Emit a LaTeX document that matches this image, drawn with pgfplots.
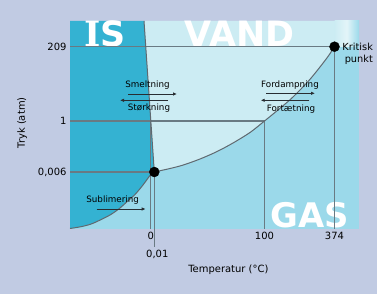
\documentclass[border=0pt]{standalone}
\usepackage{fontspec}
\setmainfont{DejaVu Sans}
\newfontfamily\serifb{DejaVu Serif}
\usepackage{pgfplots}
\pgfplotsset{compat=1.18}
\usetikzlibrary{arrows.meta}
\definecolor{bg}{RGB}{193,203,227}
\definecolor{ice}{RGB}{52,178,210}
\definecolor{liquid}{RGB}{204,236,243}
\definecolor{gas}{RGB}{155,217,234}
\definecolor{gridc}{RGB}{105,122,131}
\definecolor{curvec}{RGB}{95,105,112}
\definecolor{arrc}{RGB}{40,45,50}
\begin{document}
\begin{tikzpicture}
\fill[bg] (-70bp,-65bp) rectangle (307bp,229bp);
\begin{axis}[
  at={(0,0)}, anchor=south west,
  scale only axis, width=289bp, height=208bp,
  xmin=70, xmax=359, ymin=0, ymax=208,
  clip=false,
  axis line style={draw=none},
  major tick length=0pt,
  xtick={150.8,264.5,334.5},
  xticklabels={0,100,374},
  extra x ticks={154.3},
  extra x tick labels={0{,}01},
  extra x tick style={xticklabel style={yshift=-18bp, xshift=3bp}},
  ytick={57,108,182.3},
  yticklabels={0{,}006,1,209},
  tick label style={font=\fontsize{10}{12}\selectfont, text=black},
  xlabel={Temperatur (°C)},
  ylabel={Tryk (atm)},
  label style={font=\fontsize{10}{12}\selectfont},
  xlabel style={at={(axis description cs:0.548,-0.197)}, anchor=center},
  ylabel style={at={(axis description cs:-0.166,0.51)}, anchor=center},
]
% gas (background of plot)
\addplot[draw=none, fill=gas] coordinates {(70,0)(359,0)(359,208)(70,208)} -- cycle;
% liquid
\addplot[draw=none, fill=liquid] coordinates {
  (154.3,57)(170,60.5)(183.3,64)(200,70)(216.7,77.3)(233,86)(250,96.5)
  (264.5,108)(280,120.7)(293.3,132.3)(310,149.7)(326.7,170.7)(334.5,182.3)
  (334.5,208)(144,208)} -- cycle;
% ice
\addplot[draw=none, fill=ice] coordinates {
  (70,208)(144,208)(154.3,57)(150,53.5)(143,44)(135,34.5)(127,27.3)
  (120,21)(110,14)(93,5.7)(82,2.5)(70,0.5)} -- cycle;
% supercritical corner
\addplot[draw=none, left color=liquid, right color=gas, middle color=white!45!liquid]
  coordinates {(334.5,182.3)(359,182.3)(359,208)(334.5,208)} -- cycle;
% big labels
\node[anchor=base west, inner sep=0, text=white, font=\fontsize{35}{35}\selectfont\bfseries]
  at (axis cs:84,182.3) {{\serifb\bfseries I}S};
\node[anchor=base west, inner sep=0, text=white, font=\fontsize{35}{35}\selectfont\bfseries]
  at (axis cs:184.5,182.3) {VAND};
\node[anchor=base west, inner sep=0, text=white, font=\fontsize{34}{34}\selectfont\bfseries]
  at (axis cs:270,2) {GAS};
% reference lines
\addplot[gridc, line width=1.1bp] coordinates {(70,182.3)(334.5,182.3)};
\addplot[gridc, line width=1.1bp] coordinates {(70,108)(264.5,108)};
\addplot[gridc, line width=1.1bp] coordinates {(70,57)(154.3,57)};
\addplot[gridc, line width=1.1bp] coordinates {(150.8,108)(150.8,0)};
\addplot[gridc, line width=1.1bp] coordinates {(154.3,57)(154.3,-18)};
\addplot[gridc, line width=1.1bp] coordinates {(264.5,108)(264.5,0)};
\addplot[gridc, line width=1.1bp] coordinates {(334.5,182.3)(334.5,0)};
% phase boundaries
\addplot[curvec, line width=1bp, smooth] coordinates {
  (154.3,57)(170,60.5)(183.3,64)(200,70)(216.7,77.3)(233,86)(250,96.5)
  (264.5,108)(280,120.7)(293.3,132.3)(310,149.7)(326.7,170.7)(334.5,182.3)};
\addplot[curvec, line width=1bp, smooth] coordinates {
  (70,0.5)(82,2.5)(93,5.7)(110,14)(120,21)(127,27.3)(135,34.5)(143,44)(150,53.5)(154.3,57)};
\addplot[curvec, line width=1bp] coordinates {(154.3,57)(144,208)};
% process labels and arrows
\node[anchor=base, inner sep=0, font=\fontsize{8.8}{10}\selectfont] at (axis cs:147.5,141.7) {Smeltning};
\node[anchor=base, inner sep=0, font=\fontsize{8.8}{10}\selectfont] at (axis cs:149,118) {Størkning};
\node[anchor=base, inner sep=0, font=\fontsize{8.8}{10}\selectfont] at (axis cs:290,141.3) {Fordampning};
\node[anchor=base, inner sep=0, font=\fontsize{8.8}{10}\selectfont] at (axis cs:291,117) {Fortætning};
\node[anchor=base, inner sep=0, font=\fontsize{8.8}{10}\selectfont] at (axis cs:112.7,26.3) {Sublimering};
\addplot[arrc, line width=0.8bp, -{Latex[length=4bp,width=3.5bp]}] coordinates {(128,135)(177,135)};
\addplot[arrc, line width=0.8bp, -{Latex[length=4bp,width=3.5bp]}] coordinates {(168,128.7)(120,128.7)};
\addplot[arrc, line width=0.8bp, -{Latex[length=4bp,width=3.5bp]}] coordinates {(266,135.7)(315,135.7)};
\addplot[arrc, line width=0.8bp, -{Latex[length=4bp,width=3.5bp]}] coordinates {(309.3,128.7)(260.7,128.7)};
\addplot[arrc, line width=0.8bp, -{Latex[length=4bp,width=3.5bp]}] coordinates {(96.7,20)(145.7,20)};
% critical point label
\node[anchor=base, inner sep=0, font=\fontsize{9.8}{11}\selectfont] at (axis cs:357.7,178) {Kritisk};
\node[anchor=base, inner sep=0, font=\fontsize{9.8}{11}\selectfont] at (axis cs:358.8,166.7) {punkt};
% triple and critical points
\addplot[only marks, mark=*, mark size=5bp, mark options={fill=black, draw=black}] coordinates {(154.3,57)(334.5,182.3)};
\end{axis}
\pgfresetboundingbox
\path (-70bp,-65bp) rectangle (307bp,229bp);
\end{tikzpicture}
\end{document}
